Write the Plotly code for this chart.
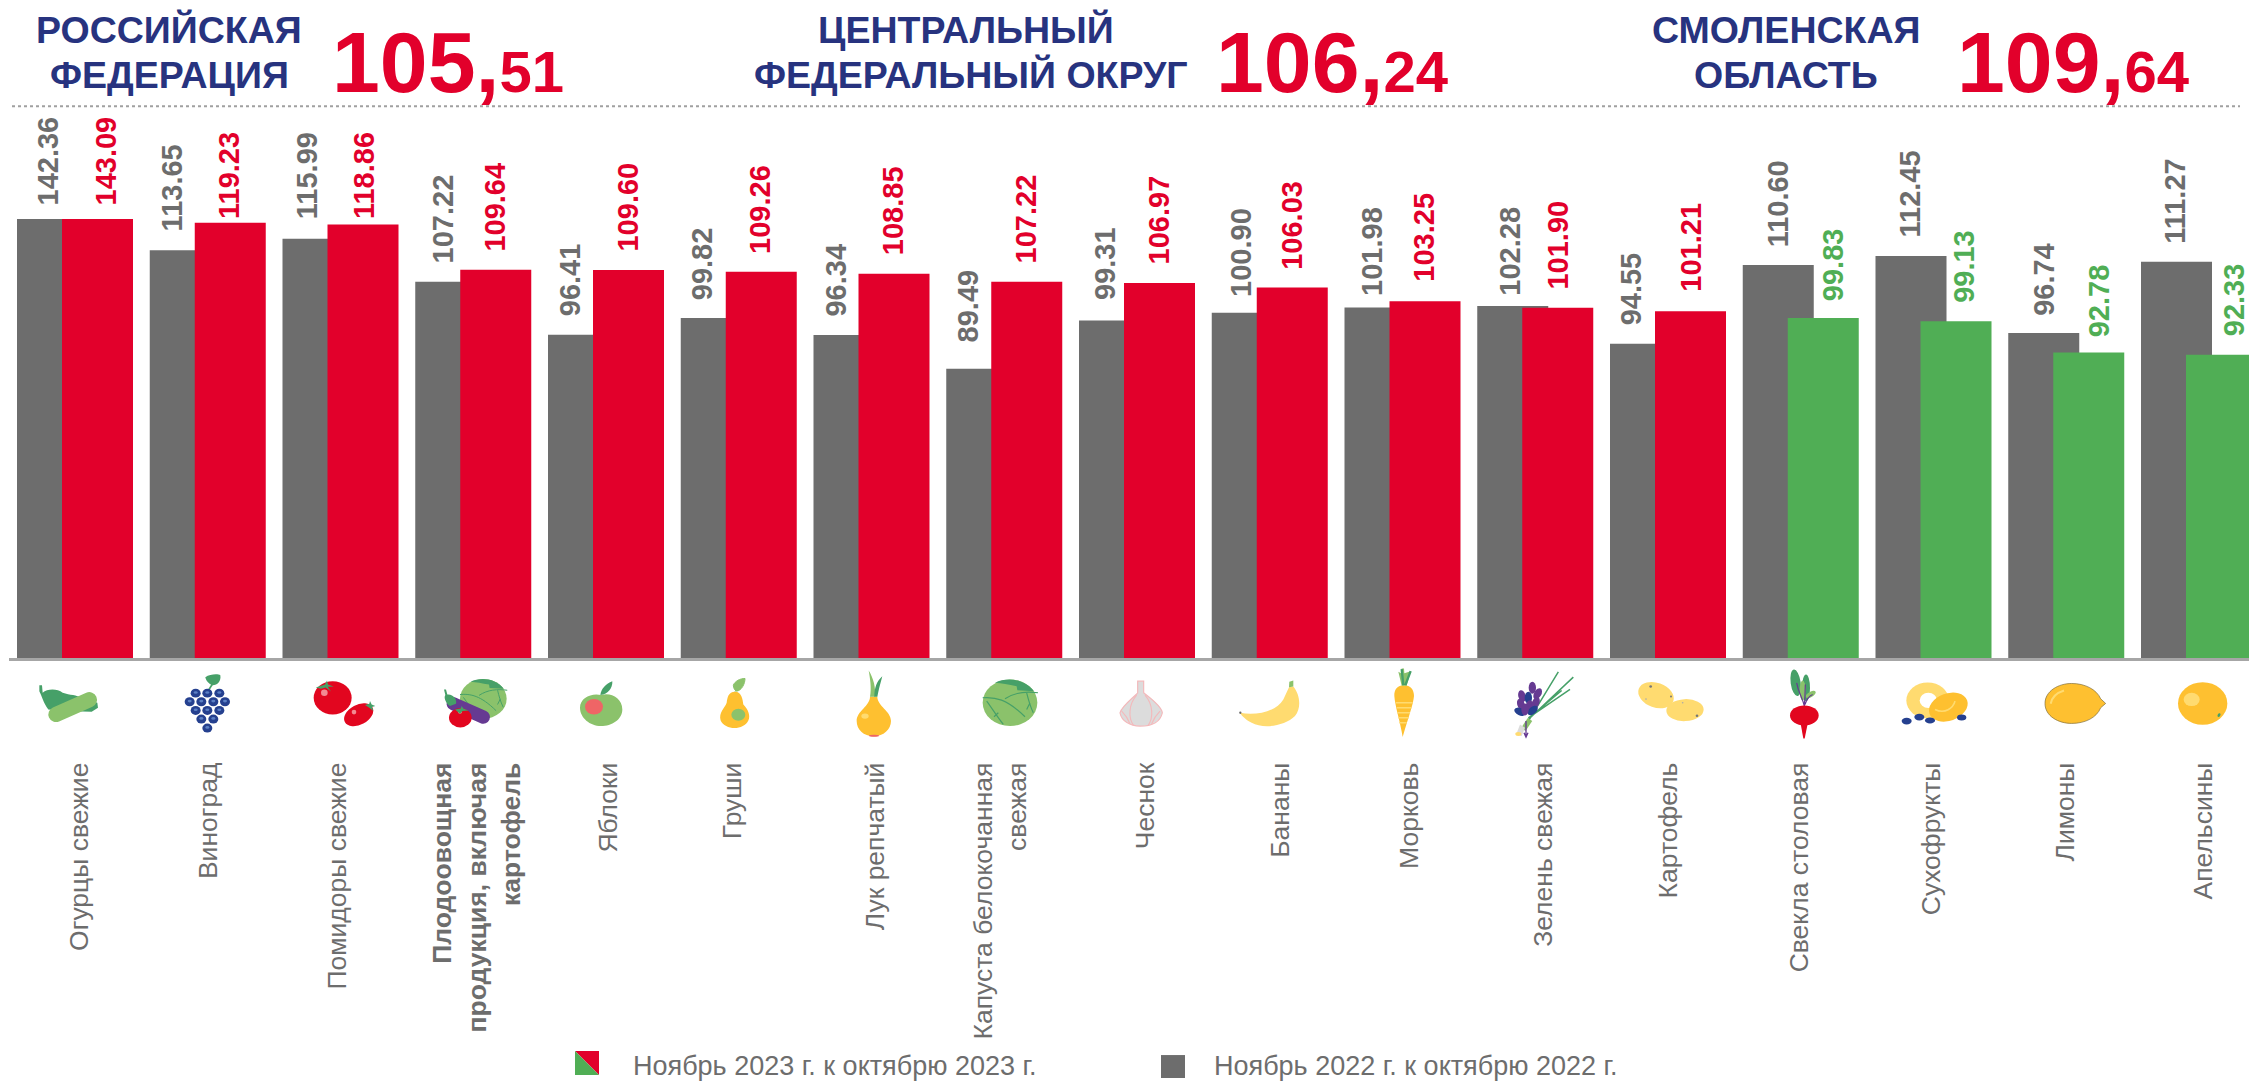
import base64
import plotly.graph_objects as go

# ---------- data ----------
categories = ["Огурцы свежие", "Виноград", "Помидоры свежие",
              "<b>Плодоовощная<br>продукция, включая<br>картофель</b>", "Яблоки", "Груши",
              "Лук репчатый", "Капуста белокочанная<br>свежая", "Чеснок", "Бананы", "Морковь",
              "Зелень свежая", "Картофель", "Свекла столовая", "Сухофрукты", "Лимоны", "Апельсины"]
values_2022 = [142.36, 113.65, 115.99, 107.22, 96.41, 99.82, 96.34, 89.49, 99.31,
               100.90, 101.98, 102.28, 94.55, 110.60, 112.45, 96.74, 111.27]
values_2023 = [143.09, 119.23, 118.86, 109.64, 109.60, 109.26, 108.85, 107.22, 106.97,
               106.03, 103.25, 101.90, 101.21, 99.83, 99.13, 92.78, 92.33]
series_2022 = "Ноябрь 2022 г. к октябрю 2022 г."
series_2023 = "Ноябрь 2023 г. к октябрю 2023 г."
headline_line1 = ["РОССИЙСКАЯ", "ЦЕНТРАЛЬНЫЙ", "СМОЛЕНСКАЯ"]
headline_line2 = ["ФЕДЕРАЦИЯ", "ФЕДЕРАЛЬНЫЙ ОКРУГ", "ОБЛАСТЬ"]
headline_whole = ["105", "106", "109"]
headline_frac = ["51", "24", "64"]

# ---------- layout constants ----------
W, H = 2249, 1082
PLOT_L, PLOT_R, PLOT_T, PLOT_B = 9, 2249, 219, 658.5
PERIOD, CENTER0 = 132.75, 75
Y_MIN, Y_MAX = 30.5, 120
GREY, RED, GREEN, NAVY = "#6d6d6d", "#e2002b", "#50ae55", "#27337f"
FONT = "Liberation Sans"
grey_label_dx = [-28, -36, -33.5, -30, -36, -36, -35.5, -36, -32, -29, -30.5, -25, -37, -23, -23.5, -23, -24]
red_label_dx = [30, 22, 23.5, 22, 22, 21, 21.5, 22, 22, 22, 21.5, 23, 23, 33, 30.5, 33, 35]
grey_label_gap = [12, 18, 18, 17, 17, 17, 17, 25, 19, 15, 10, 9, 17, 17, 17, 16, 17]
red_label_gap = [12, 3, 4, 17, 17, 17, 17, 17, 17, 17, 18, 17, 18, 16, 17, 14, 17]
tick_dx = [4, 1, -3, 4, 2, -6, 4, -4, 8, 11, 7, 8, 0, -1, -2, -1, 4]


def px(x):
    return (x - PLOT_L) / (PLOT_R - PLOT_L)


def py(y):
    return (PLOT_B - y) / (PLOT_B - PLOT_T)


idx = list(range(len(categories)))
bar_w = 71 / PERIOD
colors_2023 = [RED if v > 100 else GREEN for v in values_2023]

fig = go.Figure()
fig.add_bar(x=idx, y=values_2022, base=0, width=bar_w, offset=-58 / PERIOD, marker=dict(color=GREY, line_width=0),
            name=series_2022, showlegend=False)
fig.add_bar(x=idx, y=values_2023, base=0, width=bar_w, offset=-13 / PERIOD, marker=dict(color=colors_2023, line_width=0),
            name=series_2023, showlegend=False)

annotations = []
for i in idx:
    for vals, dx, gap, col in ((values_2022, grey_label_dx, grey_label_gap, GREY),
                               (values_2023, red_label_dx, red_label_gap, colors_2023[i])):
        annotations.append(dict(x=i, y=min(vals[i], Y_MAX), xref="x", yref="y", xshift=dx[i], yshift=gap[i],
                                text=f"<b>{vals[i]:.2f}</b>", textangle=-90, showarrow=False,
                                xanchor="center", yanchor="bottom", borderpad=0,
                                font=dict(family=FONT, size=29, color=col)))

# headline blocks
for l1, l2, c1, c2, whole, frac, left in zip(headline_line1, headline_line2, (169, 966, 1786), (169, 971, 1786),
                                             headline_whole, headline_frac, (330, 1214, 1955)):
    for txt, cx, cy in ((l1, c1, 30), (l2, c2, 75)):
        annotations.append(dict(x=px(cx), y=py(cy), xref="paper", yref="paper", text=f"<b>{txt}</b>", showarrow=False,
                                xanchor="center", yanchor="middle", align="center",
                                font=dict(family=FONT, size=37.5, color=NAVY)))
    annotations.append(dict(x=px(left), y=py(62), xref="paper", yref="paper", showarrow=False,
                            text=f"<b>{whole},<span style='font-size:58px'>{frac}</span></b>",
                            xanchor="left", yanchor="middle",
                            font=dict(family=FONT, size=86, color=RED)))

# legend
for text, x_text in ((series_2023, 631), (series_2022, 1212)):
    annotations.append(dict(x=px(x_text), y=py(1067), xref="paper", yref="paper", text=text, showarrow=False,
                            xanchor="left", yanchor="middle", font=dict(family=FONT, size=27, color=GREY)))

shapes = [
    dict(type="line", xref="paper", yref="paper", x0=px(12), x1=px(2240), y0=py(106), y1=py(106),
         line=dict(color="#a0a0a0", width=2, dash="dot")),
    dict(type="rect", xref="paper", yref="paper", x0=px(1161), x1=px(1185), y0=py(1056), y1=py(1079),
         fillcolor=GREY, line_width=0),
    dict(type="path", xref="paper", yref="paper", fillcolor=RED, line_width=0,
         path=f"M{px(575)},{py(1052)} L{px(599)},{py(1052)} L{px(599)},{py(1076)} Z"),
    dict(type="path", xref="paper", yref="paper", fillcolor=GREEN, line_width=0,
         path=f"M{px(575)},{py(1052)} L{px(599)},{py(1076)} L{px(575)},{py(1076)} Z"),
]

# ---------- icons (vector drawings, in 3x crop coordinates) ----------
LG, DG, YE, LY, BL, PU, RD = "#8bc26b", "#46a068", "#fec030", "#ffdb70", "#25408f", "#663a92", "#e2061f"


def grape(x, y):
    return f'<ellipse cx="{x}" cy="{y}" rx="15" ry="13.5" fill="{BL}"/><ellipse cx="{x}" cy="{y-2}" rx="6" ry="4" fill="#5b7fc4"/>'


def leafy(x, y):
    return (f'<path d="M{x-28},{y+6} L{x},{y-3} L{x+6},{y-15} L{x+9},{y-3} L{x+26},{y+3} L{x+8},{y+4} L{x+18},{y+18} '
            f'L{x+2},{y+6} L{x-12},{y+10} Z" fill="{DG}"/>')


def cabbage(cx, cy, rx, ry):
    s = rx / 82
    return (f'<g transform="translate({cx},{cy}) scale({s})">'
            f'<ellipse cx="0" cy="0" rx="82" ry="70" fill="{LG}"/>'
            f'<path d="M-45,-60 C-10,-78 45,-72 72,-35 L22,-38 L20,-50 C-5,-55 -25,-58 -45,-60 Z" fill="{DG}"/>'
            f'<path d="M-82,-15 C-45,-18 -10,-12 45,42 M-15,-12 C15,-32 50,-35 84,-30 M-70,-5 C-55,15 -40,40 -20,65 '
            f'M50,-30 C55,-10 60,10 70,30 M-35,30 L-48,42 M60,0 L50,20" stroke="{DG}" stroke-width="3.5" fill="none"/></g>')


strip1 = (
    # cucumber
    f'<path d="M58,62 L66,62 L68,85 C82,72 112,72 128,85 C150,92 170,92 185,100 L232,115 L234,130 L215,142 L130,140 L85,135 C70,115 66,95 58,80 Z" fill="{DG}"/>'
    f'<path d="M108,150 L208,106" stroke="{LG}" stroke-width="46" stroke-linecap="round"/>'
    # grapes
    f'<path d="M556,38 C570,28 595,28 601,32 C604,50 592,62 578,62 C566,58 558,48 556,38 Z" fill="{DG}"/>'
    f'<path d="M578,58 L565,78" stroke="{DG}" stroke-width="5"/>'
    + "".join(grape(x, y) for x, y in [(527, 86), (562, 86), (598, 86), (509, 112), (544, 112), (580, 112), (615, 112),
                                       (527, 138), (562, 138), (598, 138), (544, 164), (580, 164), (562, 191)])
    # tomatoes
    + f'<ellipse cx="938" cy="100" rx="57" ry="50" fill="{RD}"/><circle cx="913" cy="85" r="10" fill="#f28a92"/>' + leafy(915, 63)
    + f'<ellipse cx="1016" cy="151" rx="47" ry="30" transform="rotate(-28 1016 151)" fill="{RD}"/><circle cx="1002" cy="143" r="7" fill="#f28a92"/>'
    + f'<path d="M1035,122 L1048,118 L1050,110 L1055,120 L1066,125 L1056,128 L1060,140 L1048,130 Z" fill="{DG}"/>'
)
strip2 = (
    cabbage(190, 103, 70, 60)
    + f'<path d="M100,118 L190,158" stroke="{PU}" stroke-width="40" stroke-linecap="round"/>'
    + f'<path d="M72,75 L78,75 L82,90 C100,88 112,105 108,118 L90,125 C78,118 70,100 76,92 Z" fill="{DG}"/>'
    + f'<ellipse cx="121" cy="160" rx="34" ry="29" fill="{RD}"/><circle cx="120" cy="142" r="6" fill="#f28a92"/>'
    + f'<path d="M105,135 L122,132 L125,125 L130,132 L145,138 L128,140 L120,148 Z" fill="{DG}"/>'
    # apple
    + f'<path d="M543,92 C570,82 607,100 607,135 C607,165 575,185 543,185 C510,185 480,160 480,130 C480,100 515,85 543,92 Z" fill="{LG}"/>'
    + f'<ellipse cx="522" cy="127" rx="27" ry="23" fill="#ef6566"/>'
    + f'<path d="M541,92 C543,72 558,58 577,50 C578,70 565,88 541,92 Z" fill="{DG}"/>'
    # pear
    + f'<path d="M945,82 C965,82 968,105 970,120 C985,135 992,155 985,168 C972,198 915,198 902,168 C895,145 915,130 920,115 C922,100 925,82 945,82 Z" fill="{YE}"/>'
    + f'<ellipse cx="955" cy="151" rx="21" ry="18" fill="{LG}"/>'
    + f'<path d="M945,82 L950,70 M940,62 C945,50 960,42 975,42 C975,58 965,78 950,80 C945,78 940,72 940,62 Z" fill="{LG}" stroke="{LG}" stroke-width="3"/>'
)
strip3 = (
    f'<path d="M150,97 L172,97 C172,125 213,140 213,170 C213,195 190,216 162,216 C130,216 110,195 110,170 C110,140 150,125 150,97 Z" fill="{YE}"/>'
    f'<ellipse cx="135" cy="155" rx="11" ry="8" fill="{LY}"/><ellipse cx="162" cy="214" rx="15" ry="3" fill="#ef6566"/>'
    f'<path d="M150,97 C155,70 150,40 146,18 C160,40 168,70 165,97 Z" fill="{LG}"/>'
    f'<path d="M163,97 C163,70 170,50 187,35 C180,60 175,80 172,97 Z" fill="{DG}"/>'
    + cabbage(570, 115, 82, 70)
    + '<path d="M953,50 L971,50 L971,85 C990,100 1025,125 1027,145 C1020,175 990,185 960,185 C930,185 905,170 900,145 C905,125 940,100 953,85 Z" fill="#dcdcdc" stroke="#f3b9bb" stroke-width="3.5"/>'
    '<path d="M950,92 C925,120 925,160 940,182 M975,92 C1000,120 1000,160 985,182 M905,140 C915,150 925,165 930,178 M1020,140 C1010,150 1000,165 995,178" stroke="#f3b9bb" stroke-width="3.5" fill="none"/>'
)


def petal(x, y, r, c):
    return f'<ellipse cx="{x}" cy="{y}" rx="11" ry="18" transform="rotate({r} {x} {y})" fill="{c}"/>'


strip4 = (
    f'<path d="M60,145 C110,155 170,140 190,105 L207,68 L220,66 C240,90 245,130 225,155 C195,185 130,195 95,175 C80,168 65,155 60,145 Z" fill="{LY}"/>'
    f'<path d="M208,52 L220,48 L220,66 L207,68 Z" fill="{LG}"/><circle cx="61" cy="145" r="3.5" fill="#666"/>'
    # carrot
    f'<path d="M552,62 C572,62 582,75 582,95 C580,120 565,160 548,218 C540,170 525,125 523,95 C522,75 532,62 552,62 Z" fill="{YE}"/>'
    f'<path d="M528,115 H578 M530,130 H574 M532,145 H570 M535,160 H566 M538,175 H560" stroke="{LY}" stroke-width="4"/>'
    f'<path d="M545,64 L535,22 L543,26 L545,12 L552,12 L553,26 L572,20 L560,64 Z" fill="{LG}"/>'
    f'<path d="M545,14 L550,62 M572,20 L556,62" stroke="{DG}" stroke-width="7"/>'
    # herbs
    f'<path d="M925,170 L1015,22 M925,165 L1060,38 M930,158 L1025,78 M925,160 L1050,75" stroke="{DG}" stroke-width="4.5" fill="none"/>'
    f'<path d="M910,195 L930,165" stroke="{LG}" stroke-width="16"/>'
    f'<path d="M900,180 L915,190 L905,215 L888,212 Z" fill="#dcdcdc"/><ellipse cx="895" cy="209" rx="9" ry="6" fill="{LY}"/>'
    f'<path d="M918,170 V215 M912,205 L918,218 L924,205" stroke="{PU}" stroke-width="4" fill="none"/>'
    + petal(906, 95, -15, PU) + petal(937, 70, 0, PU) + petal(953, 88, 30, PU) + petal(925, 100, 0, BL)
    + petal(903, 120, -20, PU) + petal(928, 125, 10, PU) + petal(947, 115, 25, PU)
    + petal(900, 142, -65, BL) + petal(938, 138, 50, BL) + petal(915, 135, 0, PU)
)
strip5 = (
    f'<ellipse cx="108" cy="92" rx="55" ry="37" transform="rotate(20 108 92)" fill="{LY}"/>'
    f'<ellipse cx="195" cy="137" rx="56" ry="33" transform="rotate(-3 195 137)" fill="{LY}"/>'
    '<circle cx="92" cy="66" r="4" fill="#777"/><circle cx="153" cy="96" r="3" fill="#777"/><circle cx="78" cy="104" r="2.5" fill="#aaa"/>'
    '<circle cx="231" cy="154" r="4" fill="#777"/><circle cx="188" cy="115" r="2.5" fill="#aaa"/>'
    # beet
    f'<ellipse cx="527" cy="55" rx="15" ry="40" transform="rotate(-8 527 55)" fill="{DG}"/>'
    f'<ellipse cx="558" cy="70" rx="12" ry="40" fill="{DG}"/><ellipse cx="548" cy="78" rx="9" ry="30" fill="{LG}"/>'
    f'<ellipse cx="572" cy="90" rx="17" ry="8" transform="rotate(-30 572 90)" fill="{LG}"/>'
    f'<path d="M553,125 C548,100 535,85 530,55 M553,125 C555,100 555,85 556,60 M555,120 C560,105 565,95 578,90" stroke="{PU}" stroke-width="3.5" fill="none"/>'
    f'<ellipse cx="553" cy="153" rx="43" ry="30" fill="{RD}"/><path d="M542,178 L563,178 L554,222 L550,222 Z" fill="{RD}"/>'
    # dried fruit
    f'<ellipse cx="923" cy="108" rx="64" ry="54" fill="{LY}"/><ellipse cx="925" cy="108" rx="26" ry="23" fill="#fff"/>'
    f'<ellipse cx="985" cy="128" rx="60" ry="41" transform="rotate(-20 985 128)" fill="{YE}"/>'
    f'<path d="M945,135 C975,150 1000,130 1005,110" stroke="{LY}" stroke-width="5" fill="none"/>'
    f'<ellipse cx="860" cy="170" rx="15" ry="10" fill="{BL}"/><ellipse cx="898" cy="158" rx="15" ry="10" fill="{BL}"/>'
    f'<ellipse cx="930" cy="168" rx="15" ry="9" fill="{BL}"/><ellipse cx="1025" cy="159" rx="14" ry="9" fill="{BL}"/>'
)
strip6 = (
    f'<path d="M165,117 C165,80 205,57 245,57 C285,57 320,75 332,103 L347,117 L332,130 C320,160 285,177 245,177 C205,177 165,155 165,117 Z" fill="{YE}" stroke="#7a6a3a" stroke-width="2"/>'
    f'<path d="M182,118 C185,100 200,85 222,78" stroke="{LY}" stroke-width="6" fill="none"/>'
    f'<ellipse cx="638" cy="117" rx="74" ry="64" fill="{YE}"/><ellipse cx="605" cy="105" rx="24" ry="20" fill="{LY}"/>'
    f'<ellipse cx="687" cy="152" rx="4" ry="6" transform="rotate(30 687 152)" fill="{DG}"/>'
)
strips = [(20, 665, 400, 80, strip1), (420, 665, 400, 80, strip2), (820, 665, 400, 80, strip3),
          (1220, 665, 400, 80, strip4), (1620, 665, 400, 80, strip5), (1990, 665, 259, 80, strip6)]
images = []
for x0, y0, w, h, inner in strips:
    svg = (f'<svg xmlns="http://www.w3.org/2000/svg" width="{w}" height="{h}" viewBox="0 0 {w*3} {h*3}">{inner}</svg>')
    src = "data:image/svg+xml;base64," + base64.b64encode(svg.encode()).decode()
    images.append(dict(source=src, xref="paper", yref="paper", x=px(x0), y=py(y0),
                       sizex=w / (PLOT_R - PLOT_L), sizey=h / (PLOT_B - PLOT_T),
                       xanchor="left", yanchor="top", sizing="stretch", layer="above"))

fig.update_layout(
    width=W, height=H, autosize=False, barmode="overlay", showlegend=False,
    paper_bgcolor="white", plot_bgcolor="white",
    margin=dict(l=PLOT_L, r=W - PLOT_R, t=PLOT_T, b=H - PLOT_B, pad=0),
    annotations=annotations, shapes=shapes, images=images,
    xaxis=dict(range=[(PLOT_L - CENTER0) / PERIOD, (PLOT_R - CENTER0) / PERIOD], showgrid=False, zeroline=False,
               tickmode="array", tickvals=[i + d / PERIOD for i, d in zip(idx, tick_dx)], ticktext=categories,
               tickangle=-90, ticks="", ticklabelstandoff=91, ticklabeloverflow="allow", automargin=False,
               showline=True, linecolor="#a6a6a6", linewidth=3,
               tickfont=dict(family=FONT, size=26.5, color=GREY)),
    yaxis=dict(range=[Y_MIN, Y_MAX], visible=False, showgrid=False, zeroline=False),
)
fig.write_html("out.html", config={"displayModeBar": False},
               post_script="document.body.style.margin='0';document.body.style.overflow='hidden';")
